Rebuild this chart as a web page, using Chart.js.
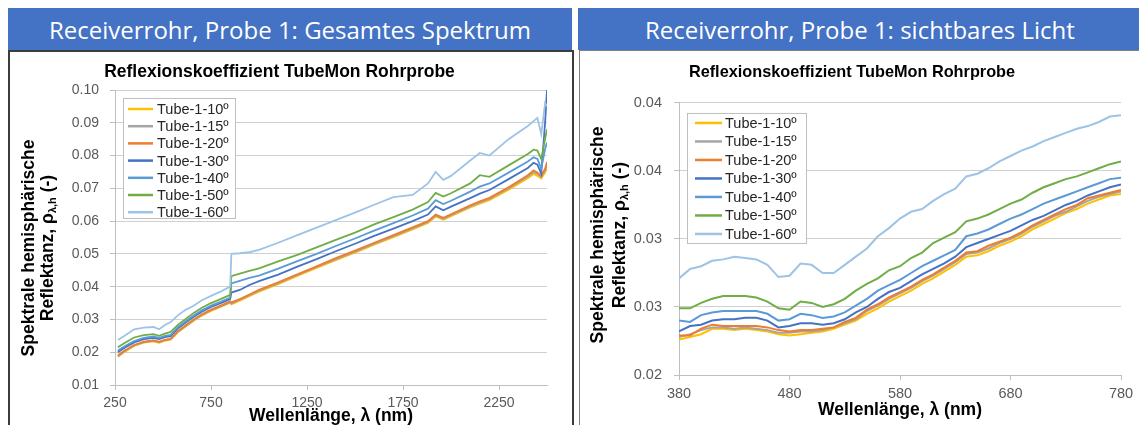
<!DOCTYPE html>
<html>
<head>
<meta charset="utf-8">
<script src="https://cdn.jsdelivr.net/npm/chart.js@4.4.0/dist/chart.umd.min.js"></script>
<style>
  body { margin: 0; width: 1139px; height: 425px; overflow: hidden; background: #fff; position: relative; }
  .head { position: absolute; top: 8px; height: 42px; background: #4472c4; color: #fff;
          font-family: "Open Sans", sans-serif; font-size: 24px; line-height: 43px; text-align: center; }
  .body { position: absolute; top: 50px; height: 380px; background: #fff; box-sizing: border-box; }
  canvas { position: absolute; top: 54px; }
</style>
</head>
<body>
<div class="head" style="left:8px;width:564px">Receiverrohr, Probe 1: Gesamtes Spektrum</div>
<div class="head" style="left:578px;width:570px;text-align:left;padding-left:67px;box-sizing:border-box">Receiverrohr, Probe 1: sichtbares Licht</div>
<div class="body" style="left:8px;width:566px;border:2px solid #3c3c3c"></div>
<div class="body" style="left:579px;width:600px;border:1px solid #808080"></div>
<canvas id="left" width="558" height="371" style="left:12px"></canvas>
<canvas id="right" width="604" height="371" style="left:583px"></canvas>
<script>
// series names and colours (Excel palette)
const seriesNames = ['Tube-1-10º', 'Tube-1-15º', 'Tube-1-20º', 'Tube-1-30º', 'Tube-1-40º', 'Tube-1-50º', 'Tube-1-60º'];
const seriesColors = ['#FFC000', '#A5A5A5', '#ED7D31', '#4472C4', '#5B9BD5', '#70AD47', '#9DC3E6'];

// --- left chart: full spectrum ---
const leftWavelengths = [265, 300, 350, 400, 450, 480, 510, 540, 580, 620, 660, 700, 750, 800, 850, 856, 900, 950, 1000, 1100,
  1200, 1300, 1400, 1500, 1600, 1700, 1800, 1880, 1920, 1960, 2000, 2100, 2150, 2200, 2300, 2400, 2430, 2450, 2470, 2490, 2500];
const left10 = [0.0186, 0.0201, 0.0219, 0.0229, 0.0233, 0.0229, 0.0235, 0.0238, 0.0262, 0.0279, 0.0296, 0.0311, 0.0326, 0.0338, 0.0351, 0.0346, 0.0357, 0.0371, 0.0385, 0.0408,
  0.0433, 0.0457, 0.0481, 0.0504, 0.0528, 0.0551, 0.0575, 0.0594, 0.0614, 0.0604, 0.0615, 0.0642, 0.0653, 0.0664, 0.0696, 0.0731, 0.0744, 0.0738, 0.0730, 0.0748, 0.0760];
const left15 = [0.0188, 0.0203, 0.0221, 0.0231, 0.0235, 0.0231, 0.0237, 0.0240, 0.0264, 0.0281, 0.0298, 0.0313, 0.0328, 0.0340, 0.0353, 0.0349, 0.0360, 0.0374, 0.0388, 0.0411,
  0.0436, 0.0460, 0.0484, 0.0507, 0.0531, 0.0554, 0.0578, 0.0597, 0.0617, 0.0607, 0.0618, 0.0645, 0.0657, 0.0668, 0.0700, 0.0736, 0.0750, 0.0744, 0.0735, 0.0755, 0.0770];
const left20 = [0.0190, 0.0205, 0.0222, 0.0232, 0.0236, 0.0232, 0.0238, 0.0241, 0.0266, 0.0283, 0.0300, 0.0315, 0.0330, 0.0342, 0.0355, 0.0352, 0.0362, 0.0376, 0.0390, 0.0413,
  0.0438, 0.0462, 0.0487, 0.0510, 0.0534, 0.0557, 0.0581, 0.0600, 0.0620, 0.0610, 0.0621, 0.0648, 0.0660, 0.0671, 0.0703, 0.0740, 0.0755, 0.0748, 0.0738, 0.0760, 0.0780];
const left30 = [0.0200, 0.0214, 0.0230, 0.0240, 0.0244, 0.0240, 0.0246, 0.0249, 0.0274, 0.0291, 0.0308, 0.0323, 0.0338, 0.0350, 0.0362, 0.0382, 0.0390, 0.0405, 0.0417, 0.0437,
  0.0461, 0.0484, 0.0508, 0.0531, 0.0555, 0.0577, 0.0600, 0.0620, 0.0645, 0.0633, 0.0644, 0.0670, 0.0684, 0.0695, 0.0728, 0.0762, 0.0778, 0.0772, 0.0745, 0.0900, 0.1000];
const left40 = [0.0205, 0.0218, 0.0234, 0.0244, 0.0248, 0.0244, 0.0250, 0.0253, 0.0278, 0.0295, 0.0312, 0.0327, 0.0342, 0.0354, 0.0367, 0.0410, 0.0418, 0.0427, 0.0434, 0.0455,
  0.0478, 0.0500, 0.0524, 0.0547, 0.0571, 0.0594, 0.0617, 0.0638, 0.0664, 0.0652, 0.0662, 0.0690, 0.0705, 0.0715, 0.0748, 0.0782, 0.0795, 0.0790, 0.0760, 0.0820, 0.0840];
const left50 = [0.0215, 0.0228, 0.0245, 0.0252, 0.0255, 0.0250, 0.0257, 0.0262, 0.0285, 0.0302, 0.0320, 0.0335, 0.0350, 0.0362, 0.0375, 0.0432, 0.0440, 0.0448, 0.0456, 0.0477,
  0.0497, 0.0520, 0.0543, 0.0565, 0.0590, 0.0612, 0.0635, 0.0658, 0.0686, 0.0675, 0.0685, 0.0715, 0.0740, 0.0735, 0.0770, 0.0805, 0.0818, 0.0815, 0.0790, 0.0850, 0.0880];
const left60 = [0.0237, 0.0250, 0.0270, 0.0275, 0.0277, 0.0270, 0.0283, 0.0292, 0.0314, 0.0330, 0.0342, 0.0358, 0.0372, 0.0385, 0.0400, 0.0500, 0.0502, 0.0505, 0.0512, 0.0534,
  0.0557, 0.0580, 0.0603, 0.0626, 0.0650, 0.0673, 0.0680, 0.0715, 0.0750, 0.0726, 0.0738, 0.0785, 0.0808, 0.0800, 0.0850, 0.0890, 0.0905, 0.0915, 0.0865, 0.0960, 0.0950];
const leftXTicks = [250, 750, 1250, 1750, 2250];
const leftYTicks = [0.01, 0.02, 0.03, 0.04, 0.05, 0.06, 0.07, 0.08, 0.09, 0.10];
const leftYTickLabels = ['0.01', '0.02', '0.03', '0.04', '0.05', '0.06', '0.07', '0.08', '0.09', '0.10'];

// --- right chart: visible light ---
const rightWavelengths = [380, 390, 400, 410, 420, 430, 440, 450, 460, 470, 480, 490, 500, 510, 520, 530, 540, 550, 560, 570,
  580, 590, 600, 610, 620, 630, 640, 650, 660, 670, 680, 690, 700, 710, 720, 730, 740, 750, 760, 770, 780];
const right10 = [0.0226, 0.0228, 0.0230, 0.0234, 0.0234, 0.0233, 0.0234, 0.0233, 0.0232, 0.0230, 0.0229, 0.0230, 0.0231, 0.0232, 0.0234, 0.0237, 0.0240, 0.0245, 0.0249, 0.0254,
  0.0258, 0.0262, 0.0267, 0.0271, 0.0276, 0.0281, 0.0287, 0.0288, 0.0291, 0.0295, 0.0298, 0.0302, 0.0307, 0.0311, 0.0315, 0.0319, 0.0322, 0.0326, 0.0329, 0.0332, 0.0333];
const right15 = [0.0228, 0.0230, 0.0233, 0.0235, 0.0235, 0.0234, 0.0235, 0.0234, 0.0233, 0.0231, 0.0231, 0.0232, 0.0232, 0.0233, 0.0235, 0.0238, 0.0241, 0.0247, 0.0251, 0.0256,
  0.0260, 0.0264, 0.0269, 0.0273, 0.0278, 0.0283, 0.0289, 0.0290, 0.0293, 0.0297, 0.0300, 0.0304, 0.0309, 0.0313, 0.0317, 0.0320, 0.0324, 0.0328, 0.0331, 0.0333, 0.0335];
const right20 = [0.0229, 0.0229, 0.0234, 0.0237, 0.0236, 0.0236, 0.0236, 0.0236, 0.0235, 0.0233, 0.0232, 0.0233, 0.0233, 0.0234, 0.0235, 0.0239, 0.0242, 0.0248, 0.0252, 0.0257,
  0.0261, 0.0265, 0.0270, 0.0274, 0.0279, 0.0284, 0.0290, 0.0291, 0.0295, 0.0298, 0.0301, 0.0305, 0.0310, 0.0314, 0.0318, 0.0322, 0.0325, 0.0330, 0.0332, 0.0334, 0.0336];
const right30 = [0.0232, 0.0236, 0.0237, 0.0240, 0.0241, 0.0241, 0.0242, 0.0242, 0.0240, 0.0235, 0.0236, 0.0238, 0.0238, 0.0237, 0.0238, 0.0241, 0.0246, 0.0250, 0.0256, 0.0261,
  0.0264, 0.0269, 0.0274, 0.0278, 0.0282, 0.0287, 0.0294, 0.0297, 0.0300, 0.0303, 0.0306, 0.0310, 0.0314, 0.0317, 0.0321, 0.0325, 0.0328, 0.0332, 0.0335, 0.0338, 0.0340];
const right40 = [0.0240, 0.0239, 0.0244, 0.0246, 0.0247, 0.0247, 0.0247, 0.0247, 0.0245, 0.0240, 0.0241, 0.0245, 0.0244, 0.0242, 0.0243, 0.0246, 0.0251, 0.0256, 0.0262, 0.0266,
  0.0270, 0.0275, 0.0280, 0.0284, 0.0288, 0.0292, 0.0302, 0.0304, 0.0307, 0.0311, 0.0315, 0.0318, 0.0322, 0.0326, 0.0329, 0.0332, 0.0335, 0.0338, 0.0341, 0.0344, 0.0345];
const right50 = [0.0249, 0.0249, 0.0253, 0.0256, 0.0258, 0.0258, 0.0258, 0.0257, 0.0254, 0.0249, 0.0248, 0.0254, 0.0253, 0.0250, 0.0252, 0.0256, 0.0262, 0.0267, 0.0271, 0.0277,
  0.0280, 0.0286, 0.0290, 0.0297, 0.0301, 0.0305, 0.0313, 0.0315, 0.0318, 0.0322, 0.0326, 0.0329, 0.0334, 0.0338, 0.0341, 0.0344, 0.0346, 0.0349, 0.0352, 0.0355, 0.0357];
const right60 = [0.0271, 0.0278, 0.0280, 0.0284, 0.0285, 0.0287, 0.0286, 0.0285, 0.0281, 0.0272, 0.0273, 0.0282, 0.0281, 0.0275, 0.0275, 0.0281, 0.0287, 0.0293, 0.0302, 0.0308,
  0.0315, 0.0320, 0.0322, 0.0328, 0.0333, 0.0337, 0.0346, 0.0348, 0.0352, 0.0357, 0.0361, 0.0365, 0.0368, 0.0372, 0.0375, 0.0378, 0.0381, 0.0383, 0.0386, 0.0390, 0.0391];
const rightXTicks = [380, 480, 580, 680, 780];
const rightYTicks = [0.02, 0.025, 0.03, 0.035, 0.04];
const rightYTickLabels = ['0.02', '0.03', '0.03', '0.04', '0.04'];

const FONT = '"Liberation Sans", Arial, sans-serif';

// legend drawn as a boxed list inside the plot, like Excel
const boxLegend = {
  id: 'boxLegend',
  afterDatasetsDraw(chart, args, o) {
    const ctx = chart.ctx, a = chart.chartArea;
    const x = a.left + o.dx, y = a.top + o.dy;
    ctx.save();
    ctx.fillStyle = '#fff';
    ctx.fillRect(x, y, o.w, o.h);
    ctx.strokeStyle = '#bfbfbf';
    ctx.lineWidth = 1;
    ctx.strokeRect(x + 0.5, y + 0.5, o.w, o.h);
    ctx.font = o.size + 'px ' + FONT;
    ctx.textBaseline = 'middle';
    ctx.textAlign = 'left';
    // legend order follows series order, not draw order
    const items = chart.data.datasets.slice().sort((p, q) => p.idx - q.idx);
    items.forEach((ds, i) => {
      const cy = y + o.first + i * o.row;
      ctx.strokeStyle = ds.borderColor;
      ctx.lineWidth = 2.5;
      ctx.beginPath();
      ctx.moveTo(x + o.l1, cy);
      ctx.lineTo(x + o.l2, cy);
      ctx.stroke();
      ctx.fillStyle = '#262626';
      ctx.fillText(ds.label, x + o.tx, cy + 1);
    });
    ctx.restore();
  }
};

// two-line rotated y title with subscript
const yTitle = {
  id: 'yTitle',
  afterDraw(chart, args, o) {
    const ctx = chart.ctx;
    const main = 'bold ' + o.size + 'px ' + FONT;
    const sub = 'bold ' + Math.round(o.size * 0.62) + 'px ' + FONT;
    ctx.save();
    ctx.fillStyle = '#000';
    ctx.textBaseline = 'middle';
    ctx.translate(o.x1, o.cy);
    ctx.rotate(-Math.PI / 2);
    ctx.font = main;
    ctx.textAlign = 'center';
    ctx.fillText('Spektrale hemisphärische', 0, 0);
    ctx.restore();

    ctx.save();
    ctx.fillStyle = '#000';
    ctx.textBaseline = 'middle';
    ctx.translate(o.x2, o.cy);
    ctx.rotate(-Math.PI / 2);
    ctx.textAlign = 'left';
    ctx.font = main;
    const w1 = ctx.measureText('Reflektanz, ρ').width;
    const w3 = ctx.measureText(' (-)').width;
    ctx.font = sub;
    const w2 = ctx.measureText('λ,h').width;
    let px = -(w1 + w2 + w3) / 2;
    ctx.font = main;
    ctx.fillText('Reflektanz, ρ', px, 0);
    px += w1;
    ctx.font = sub;
    ctx.fillText('λ,h', px, o.size * 0.28);
    px += w2;
    ctx.font = main;
    ctx.fillText(' (-)', px, 0);
    ctx.restore();
  }
};

function datasets(xs, lists, width) {
  return lists.map((vals, i) => ({
    label: seriesNames[i],
    idx: i,
    data: xs.map((x, k) => ({ x: x, y: vals[k] })),
    borderColor: seriesColors[i],
    borderWidth: width,
    pointRadius: 0,
    tension: 0,
    order: lists.length - i
  }));
}

function makeChart(id, cfg) {
  return new Chart(document.getElementById(id), {
    type: 'line',
    data: { datasets: datasets(cfg.xs, cfg.series, cfg.lineWidth) },
    options: {
      responsive: false,
      animation: false,
      devicePixelRatio: 1,
      layout: { padding: { left: 0, top: 0, right: cfg.padRight, bottom: 0 } },
      plugins: {
        legend: { display: false },
        tooltip: { enabled: false },
        title: {
          display: true,
          text: 'Reflexionskoeffizient TubeMon Rohrprobe',
          color: '#000',
          font: { family: FONT, size: cfg.titleSize, weight: 'bold', lineHeight: 1.2 },
          padding: { top: cfg.titleTop, bottom: cfg.titleBottom }
        },
        boxLegend: cfg.legend,
        yTitle: cfg.yTitle
      },
      scales: {
        x: {
          type: 'linear',
          min: cfg.xMin, max: cfg.xMax,
          afterBuildTicks: s => { s.ticks = cfg.xTicks.map(v => ({ value: v })); },
          afterFit: s => { s.height = cfg.xHeight; },
          ticks: {
            color: '#595959', padding: 5, maxRotation: 0,
            font: { family: FONT, size: cfg.tickSize },
            callback: v => String(v)
          },
          grid: { drawOnChartArea: false, drawTicks: true, tickLength: 5, color: '#bfbfbf' },
          border: { display: true, color: '#bfbfbf', width: 1 },
          title: {
            display: true,
            text: 'Wellenlänge, λ (nm)',
            color: '#000',
            font: { family: FONT, size: 17.5, weight: 'bold', lineHeight: 1 },
            padding: { top: 0, bottom: cfg.xTitleBottom }
          }
        },
        y: {
          type: 'linear',
          min: cfg.yMin, max: cfg.yMax,
          afterBuildTicks: s => { s.ticks = cfg.yTicks.map(v => ({ value: v })); },
          afterFit: s => { s.width = cfg.yWidth; },
          ticks: {
            color: '#595959', padding: cfg.yTickPad,
            font: { family: FONT, size: cfg.tickSize },
            callback: (v, i) => cfg.yLabels[i]
          },
          grid: { color: '#d0d0d0', lineWidth: 1, drawTicks: true, tickLength: 5, tickColor: '#bfbfbf' },
          border: { display: true, color: '#bfbfbf', width: 1 }
        }
      }
    },
    plugins: [boxLegend, yTitle]
  });
}

makeChart('left', {
  xs: leftWavelengths,
  series: [left10, left15, left20, left30, left40, left50, left60],
  lineWidth: 1.8,
  xMin: 250, xMax: 2500, xTicks: leftXTicks,
  yMin: 0.01, yMax: 0.10, yTicks: leftYTicks, yLabels: leftYTickLabels,
  padRight: 23, titleSize: 17.5, titleTop: 7.5, titleBottom: 7.5,
  xHeight: 40, yWidth: 103, yTickPad: 11, tickSize: 14, xTitleBottom: 0.5,
  legend: { dx: 8, dy: 8, w: 112, h: 120, first: 11, row: 17.2, l1: 5, l2: 30, tx: 34, size: 14.5 },
  yTitle: { x1: 17, x2: 36, cy: 194, size: 17.5 }
});

makeChart('right', {
  xs: rightWavelengths,
  series: [right10, right15, right20, right30, right40, right50, right60],
  lineWidth: 2,
  xMin: 380, xMax: 780, xTicks: rightXTicks,
  yMin: 0.02, yMax: 0.04, yTicks: rightYTicks, yLabels: rightYTickLabels,
  padRight: 66, titleSize: 16.3, titleTop: 9.2, titleBottom: 20.2,
  xHeight: 50, yWidth: 96, yTickPad: 12, tickSize: 14.5, xTitleBottom: 6.25,
  legend: { dx: 8, dy: 10, w: 119, h: 130, first: 10, row: 18.5, l1: 8, l2: 35, tx: 38, size: 14.5 },
  yTitle: { x1: 15, x2: 37, cy: 181, size: 17.5 }
});
</script>
</body>
</html>
